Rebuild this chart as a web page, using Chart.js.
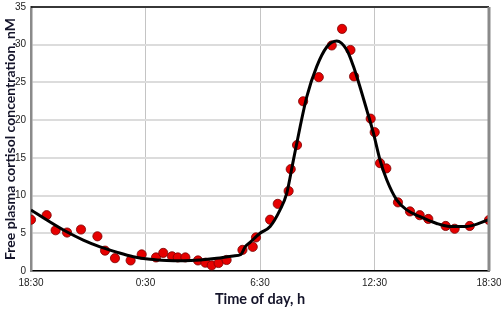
<!DOCTYPE html>
<html>
<head>
<meta charset="utf-8">
<script src="https://cdn.jsdelivr.net/npm/chart.js@4"></script>
<style>
  html, body { margin: 0; padding: 0; background: #fff; }
  #wrap { width: 501px; height: 309px; }
</style>
</head>
<body>
<div id="wrap"><canvas id="grafico" width="501" height="309"></canvas></div>
<script>
// hours after 18:30
const horasMuestra = [0, 0.82, 1.29, 1.89, 2.62, 3.48, 3.88, 4.40, 5.22, 5.80, 6.55, 6.93, 7.39, 7.69, 8.09,
    8.75, 9.14, 9.47, 9.83, 10.25, 11.08, 11.62, 11.79, 12.53, 12.93, 13.5, 13.61, 13.94, 14.26, 15.08,
    15.76, 16.3, 16.74, 16.93, 17.8, 18.01, 18.29, 18.62, 19.23, 19.86, 20.37, 20.82, 21.73, 22.2, 22.99, 24];
const cortisolMuestra = [6.8, 7.4, 5.4, 5.1, 5.5, 4.6, 2.7, 1.7, 1.4, 2.2, 1.8, 2.4, 1.95, 1.8, 1.8,
    1.4, 1.1, 0.75, 1.06, 1.46, 2.8, 3.2, 4.45, 6.8, 8.9, 10.6, 13.5, 16.7, 22.5, 25.7,
    29.9, 32.1, 29.3, 25.8, 20.2, 18.4, 14.3, 13.6, 9.1, 7.9, 7.4, 6.9, 5.97, 5.6, 5.97, 6.76];

const horasAjuste = [0, 1.0, 1.87, 2.74, 3.62, 4.49, 5.36, 6.24, 7.11, 7.98, 8.86, 9.73, 10.6, 11.0,
    11.22, 11.48, 12.0, 12.53, 13.05, 13.4, 13.75, 14.1, 14.45, 14.97, 15.5, 16.02, 16.55, 16.9,
    17.24, 17.59, 17.94, 18.29, 18.64, 19.17, 19.69, 20.39, 21.26, 21.96, 22.83, 24];
const cortisolAjuste = [8.1, 6.5, 5.2, 4.1, 3.2, 2.5, 1.9, 1.55, 1.4, 1.37, 1.46, 1.68, 1.99, 2.2,
    3.2, 3.8, 5.0, 5.9, 8.1, 10.3, 14.7, 19.1, 23.1, 27.1, 29.7, 30.5, 29.3, 27.1,
    24.4, 21.4, 18.3, 14.7, 12.1, 9.4, 8.1, 7.2, 6.3, 5.9, 5.9, 6.8];

const etiquetasHora = ["18:30", "0:30", "6:30", "12:30", "18:30"];

const puntos = horasMuestra.map((h, i) => ({ x: h, y: cortisolMuestra[i] }));
const curva = horasAjuste.map((h, i) => ({ x: h, y: cortisolAjuste[i] }));

const bordeGrafico = {
    id: "bordeGrafico",
    afterDraw(chart) {
        const { ctx, chartArea: a } = chart;
        ctx.save();
        ctx.strokeStyle = "#000";
        ctx.lineWidth = 1.5;
        ctx.beginPath();
        ctx.moveTo(a.left, a.top);
        ctx.lineTo(a.right, a.top);
        ctx.stroke();
        ctx.strokeStyle = "#8a8a8a";
        ctx.lineWidth = 3;
        ctx.beginPath();
        ctx.moveTo(a.right, a.top);
        ctx.lineTo(a.right, a.bottom);
        ctx.stroke();
        ctx.restore();
    },
};

const configGrafico = {
    type: "scatter",
    data: {
        datasets: [
            {
                label: "Muestras",
                data: puntos,
                backgroundColor: "#e60000",
                borderColor: "#7a0000",
                borderWidth: 0.8,
                pointRadius: 4.6,
                order: 1,
            },
            {
                type: "line",
                label: "Ajuste",
                data: curva,
                borderColor: "#000",
                borderWidth: 3,
                pointRadius: 0,
                cubicInterpolationMode: "monotone",
                fill: false,
                order: 0,
            },
        ],
    },
    options: {
        responsive: false,
        animation: false,
        layout: { padding: { top: 7, right: 12, left: 0, bottom: 0 } },
        plugins: {
            legend: { display: false },
            tooltip: { enabled: false },
        },
        scales: {
            x: {
                type: "linear",
                min: 0,
                max: 24,
                afterFit: (s) => { s.height = 38; s.paddingLeft = 0; s.paddingRight = 0; },
                afterBuildTicks: (s) => { s.ticks = [0, 6, 12, 18, 24].map((v) => ({ value: v })); },
                ticks: {
                    padding: 6,
                    maxRotation: 0,
                    autoSkip: false,
                    color: "#222",
                    font: { family: "Liberation Sans", size: 10 },
                    callback: (v, i) => etiquetasHora[i],
                },
                grid: { color: "#c4c4c4", lineWidth: 1, drawTicks: false },
                border: { color: "#000", width: 1.5 },
                title: {
                    display: true,
                    text: "Time of day, h",
                    color: "#14142a",
                    font: { family: "Lato", size: 14.5, weight: "bold" },
                    padding: { top: 0, bottom: 1 },
                },
            },
            y: {
                min: 0,
                max: 35,
                afterFit: (s) => { s.width = 31; s.paddingTop = 0; s.paddingBottom = 0; },
                ticks: {
                    stepSize: 5,
                    padding: 5,
                    color: "#222",
                    font: { family: "Liberation Sans", size: 10 },
                },
                grid: { color: "#dcdcdc", lineWidth: 2, drawTicks: false },
                border: { color: "#8a8a8a", width: 2.5 },
                title: {
                    display: true,
                    text: "Free plasma cortisol concentration, nM",
                    color: "#14142a",
                    font: { family: "Lato", size: 14, weight: "bold" },
                    padding: { top: 2, bottom: 0 },
                },
            },
        },
    },
    plugins: [bordeGrafico],
};

const chart = new Chart(document.getElementById("grafico"), configGrafico);
</script>
</body>
</html>
